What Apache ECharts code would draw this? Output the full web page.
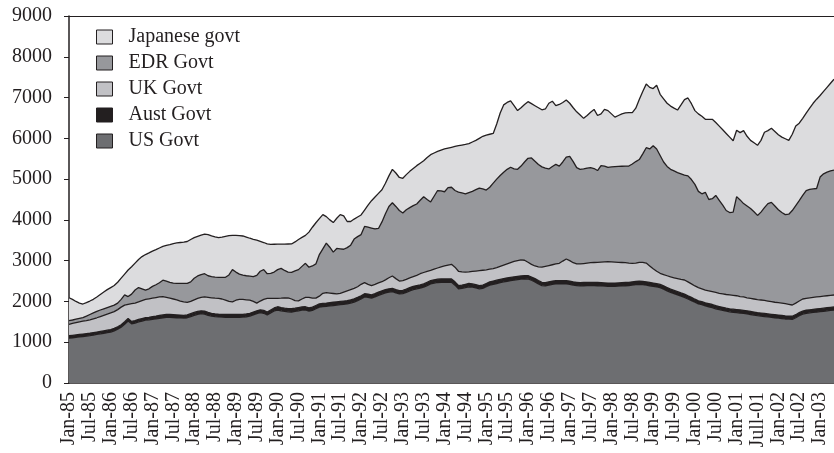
<!DOCTYPE html>
<html>
<head>
<meta charset="utf-8">
<script src="https://cdn.jsdelivr.net/npm/echarts@6/dist/echarts.min.js"></script>
<style>
html,body{margin:0;padding:0;background:#fff;}
#chart{width:834px;height:453px;}
</style>
</head>
<body>
<div id="chart"></div>
<script>
// Monthly categories Jan-85 .. May-03
const monthNames = ['Jan','Feb','Mar','Apr','May','Jun','Jul','Aug','Sep','Oct','Nov','Dec'];
const categories = [];
for (let i = 0; i < 221; i++) {
  const y = (85 + Math.floor(i / 12)) % 100;
  categories.push(monthNames[i % 12] + '-' + String(y).padStart(2, '0'));
}

// Tick labels shown on the x axis (every 6 months), as printed in the original
const tickLabels = ['Jan-85','Jul-85','Jan-86','Jul-86','Jan-87','Jul-87','Jan-88','Jul-88','Jan-89','Jul-89',
  'Jan-90','Jul-90','Jan-91','Jul-91','Jan-92','Jul-92','Jan-93','Jul-93','Jan-94','Jul-94',
  'Jan-95','Jul-95','Jan-96','Jul-96','Jan-97','Jul-97','Jan-98','Jul-98','Jan-99','Jul-99',
  'Jan-00','Jul-00','Jan-01','Jull-01','Jan-02','Jul-02','Jan-03'];

const yTicks = [0,1000,2000,3000,4000,5000,6000,7000,8000,9000];

const seriesNames = ['US Govt','Aust Govt','UK Govt','EDR Govt','Japanese govt'];

const usGovt = [
1100,1110,1120,1130,1140,1150,1160,1175,1190,1205,1220,1235,
1250,1280,1320,1370,1440,1520,1450,1470,1500,1520,1540,1550,
1560,1570,1585,1600,1610,1610,1605,1600,1595,1590,1600,1630,
1660,1685,1700,1690,1660,1640,1626,1620,1615,1612,1610,1610,
1610,1611,1615,1625,1640,1670,1700,1724,1710,1667,1720,1770,
1790,1770,1755,1745,1741,1755,1770,1785,1790,1760,1780,1820,
1860,1871,1880,1890,1900,1910,1920,1930,1940,1960,1985,2020,
2060,2110,2100,2080,2110,2150,2180,2210,2230,2239,2210,2185,
2190,2220,2260,2290,2310,2325,2350,2390,2430,2450,2465,2470,
2470,2470,2470,2400,2310,2320,2340,2360,2350,2330,2310,2320,
2360,2400,2420,2440,2460,2480,2495,2510,2525,2535,2545,2550,
2555,2520,2480,2430,2390,2380,2400,2420,2430,2430,2430,2430,
2420,2400,2390,2380,2385,2390,2390,2390,2385,2380,2375,2370,
2370,2370,2375,2380,2385,2390,2400,2410,2420,2410,2400,2385,
2370,2355,2337,2300,2260,2220,2190,2160,2130,2101,2060,2020,
1980,1940,1920,1890,1870,1850,1820,1800,1780,1760,1745,1735,
1725,1715,1705,1695,1680,1665,1650,1640,1630,1620,1610,1600,
1590,1580,1570,1565,1562,1600,1650,1690,1709,1720,1730,1740,
1750,1760,1770,1780,1790];

const austGovt = [
60,60,60,60,60,60,60,60,60,60,60,60,
60,60,60,60,60,60,60,60,60,60,60,60,
70,70,70,70,70,70,70,70,70,70,70,70,
70,70,70,70,70,70,70,70,70,70,70,70,
70,70,70,70,70,70,70,70,70,70,70,70,
80,80,80,80,80,80,80,80,80,80,80,80,
80,80,80,80,80,80,80,80,80,80,80,80,
80,80,80,80,80,80,80,80,80,80,80,80,
80,80,80,80,80,80,80,80,80,80,80,80,
80,80,80,80,80,80,80,80,80,80,80,80,
80,80,80,80,80,80,80,80,80,80,80,80,
80,80,80,80,80,80,80,80,80,80,80,80,
80,80,80,80,80,80,80,80,80,80,80,80,
80,80,80,80,80,80,80,80,80,80,80,80,
80,80,80,80,80,80,80,80,80,80,80,80,
75,75,75,75,75,75,75,75,75,75,75,75,
75,75,75,75,75,75,75,75,75,75,75,75,
75,75,75,75,75,75,75,75,75,75,75,75,
75,75,75,75,75];

const ukGovt = [
280,290,300,310,315,320,330,340,350,365,380,395,
410,410,420,430,410,350,435,430,430,440,450,455,
450,455,455,450,420,400,385,370,345,330,305,300,
310,320,330,350,370,380,384,387,375,348,320,310,
350,369,365,345,320,260,190,216,270,340,287,237,
207,230,250,265,239,185,165,195,230,260,220,180,
190,249,255,235,215,195,200,220,240,250,255,260,
280,270,240,230,230,225,224,240,270,305,270,235,
240,240,240,240,250,275,280,270,250,260,275,300,
320,340,360,360,350,325,301,285,305,335,365,365,
335,310,305,310,320,330,345,360,375,385,395,380,
325,310,310,340,370,400,400,400,410,425,480,531,
500,470,450,460,465,470,480,485,495,505,515,525,
520,515,505,495,485,470,455,450,460,470,460,405,
350,305,273,280,290,300,310,320,330,345,340,330,
325,325,315,315,315,315,325,325,330,335,340,340,
340,330,330,320,320,320,320,320,320,315,310,305,
305,305,300,290,276,285,285,295,293,295,295,295,
295,295,295,295,293];

const edrGovt = [
90,85,85,85,90,110,130,145,155,160,160,160,
160,160,160,190,250,190,235,320,350,290,230,245,
290,315,350,400,400,390,390,405,435,455,470,480,
530,550,560,570,530,520,515,515,532,562,650,790,
690,620,595,590,590,608,680,730,730,603,613,643,
703,730,675,630,655,730,765,800,835,740,790,840,
1020,1090,1215,1125,1015,1115,1090,1050,1060,1090,1210,1230,
1220,1380,1400,1410,1360,1335,1466,1620,1750,1796,1770,1730,
1660,1710,1720,1740,1750,1800,1859,1760,1680,1790,1900,1860,
1820,1900,1890,1880,1940,1935,1919,1945,1965,1995,2025,1995,
1955,2010,2095,2170,2230,2280,2320,2340,2270,2240,2300,2410,
2550,2610,2570,2510,2460,2410,2370,2410,2440,2385,2430,2499,
2560,2480,2360,2320,2320,2330,2330,2305,2250,2365,2350,2315,
2330,2340,2350,2360,2370,2380,2435,2490,2520,2660,2830,2870,
3020,3000,2890,2760,2680,2640,2620,2600,2590,2574,2600,2560,
2490,2360,2330,2396,2240,2280,2380,2280,2175,2060,2020,2040,
2430,2370,2290,2250,2205,2140,2065,2155,2275,2390,2435,2360,
2280,2220,2185,2210,2317,2390,2460,2540,2643,2660,2660,2660,
2930,3000,3030,3050,3062];

const japaneseGovt = [
560,505,435,375,332,330,330,332,355,380,410,440,
460,480,510,520,510,650,670,660,690,790,870,880,
865,860,850,830,875,925,970,990,1000,1010,1025,1040,
995,970,965,970,1010,1000,990,973,983,1003,965,842,
900,946,960,950,930,917,865,735,665,730,710,683,
625,597,648,689,695,710,740,710,685,860,950,1010,
880,840,650,670,725,740,840,820,640,580,490,480,
480,400,540,670,780,860,790,750,750,820,820,810,
850,860,890,910,940,910,881,1030,1160,1060,960,1000,
1050,970,980,1080,1140,1175,1210,1200,1210,1210,1220,1290,
1350,1300,1220,1350,1530,1650,1640,1630,1550,1440,1430,1410,
1390,1330,1360,1390,1400,1450,1610,1600,1440,1510,1460,1400,
1300,1320,1370,1330,1240,1290,1360,1450,1350,1270,1390,1390,
1300,1215,1250,1285,1305,1308,1258,1310,1470,1530,1560,1510,
1400,1560,1500,1550,1550,1550,1540,1534,1690,1850,1910,1860,
1810,1900,1900,1790,1966,1946,1790,1820,1850,1890,1850,1750,
1630,1650,1788,1710,1670,1690,1720,1760,1850,1790,1816,1830,
1840,1850,1860,1810,1870,1950,1900,1890,1900,1990,2100,2190,
2000,2020,2080,2150,2230];

const fills = ['#6d6e71','#231f20','#c1c1c5','#97989c','#dcdcde'];
const seriesData = [usGovt, austGovt, ukGovt, edrGovt, japaneseGovt];

const FONT = '"Liberation Serif", "Times New Roman", serif';
const INK = '#231f20';

const chart = echarts.init(document.getElementById('chart'), null, {renderer: 'canvas'});

const series = seriesNames.map((name, i) => ({
  name: name,
  type: 'line',
  stack: 'total',
  data: seriesData[i],
  symbol: 'none',
  smooth: false,
  z: 10 - i,
  itemStyle: {color: fills[i]},
  lineStyle: {color: INK, width: 1.3},
  areaStyle: {color: fills[i], opacity: 1},
  emphasis: {disabled: true}
}));

chart.setOption({
  animation: false,
  backgroundColor: '#ffffff',
  textStyle: {fontFamily: FONT, color: INK},
  grid: {left: 69, right: 0, top: 16, bottom: 70, containLabel: false},
  legend: {
    data: ['Japanese govt','EDR Govt','UK Govt','Aust Govt','US Govt'],
    orient: 'vertical',
    left: 96,
    top: 27,
    padding: 0,
    icon: 'rect',
    itemWidth: 16,
    itemHeight: 14,
    itemGap: 6,
    itemStyle: {borderColor: INK, borderWidth: 1},
    textStyle: {fontFamily: FONT, fontSize: 20, color: INK, padding: [0, 0, 0, 11]}
  },
  xAxis: [{
    type: 'category',
    data: categories,
    boundaryGap: false,
    axisLine: {show: true, lineStyle: {color: INK, width: 1.5}},
    axisTick: {show: false},
    splitLine: {show: false},
    axisLabel: {
      interval: 5,
      rotate: 90,
      margin: 9,
      fontFamily: FONT,
      fontSize: 20,
      color: INK,
      formatter: function (v, idx) { return tickLabels[Math.round(idx / 6)] || ''; }
    }
  }, {
    type: 'category',
    data: categories,
    position: 'top',
    boundaryGap: false,
    axisLine: {show: true, lineStyle: {color: INK, width: 1.2}},
    axisTick: {show: false},
    axisLabel: {show: false},
    splitLine: {show: false}
  }],
  yAxis: {
    type: 'value',
    min: yTicks[0],
    max: yTicks[yTicks.length - 1],
    interval: 1000,
    axisLine: {show: true, lineStyle: {color: INK, width: 1.5}},
    axisTick: {show: true, inside: false, length: 5, lineStyle: {color: INK, width: 1}},
    splitLine: {show: false},
    axisLabel: {margin: 17, fontFamily: FONT, fontSize: 20, color: INK,
      formatter: function (v) { return String(v); }}
  },
  series: series
});
</script>
</body>
</html>
